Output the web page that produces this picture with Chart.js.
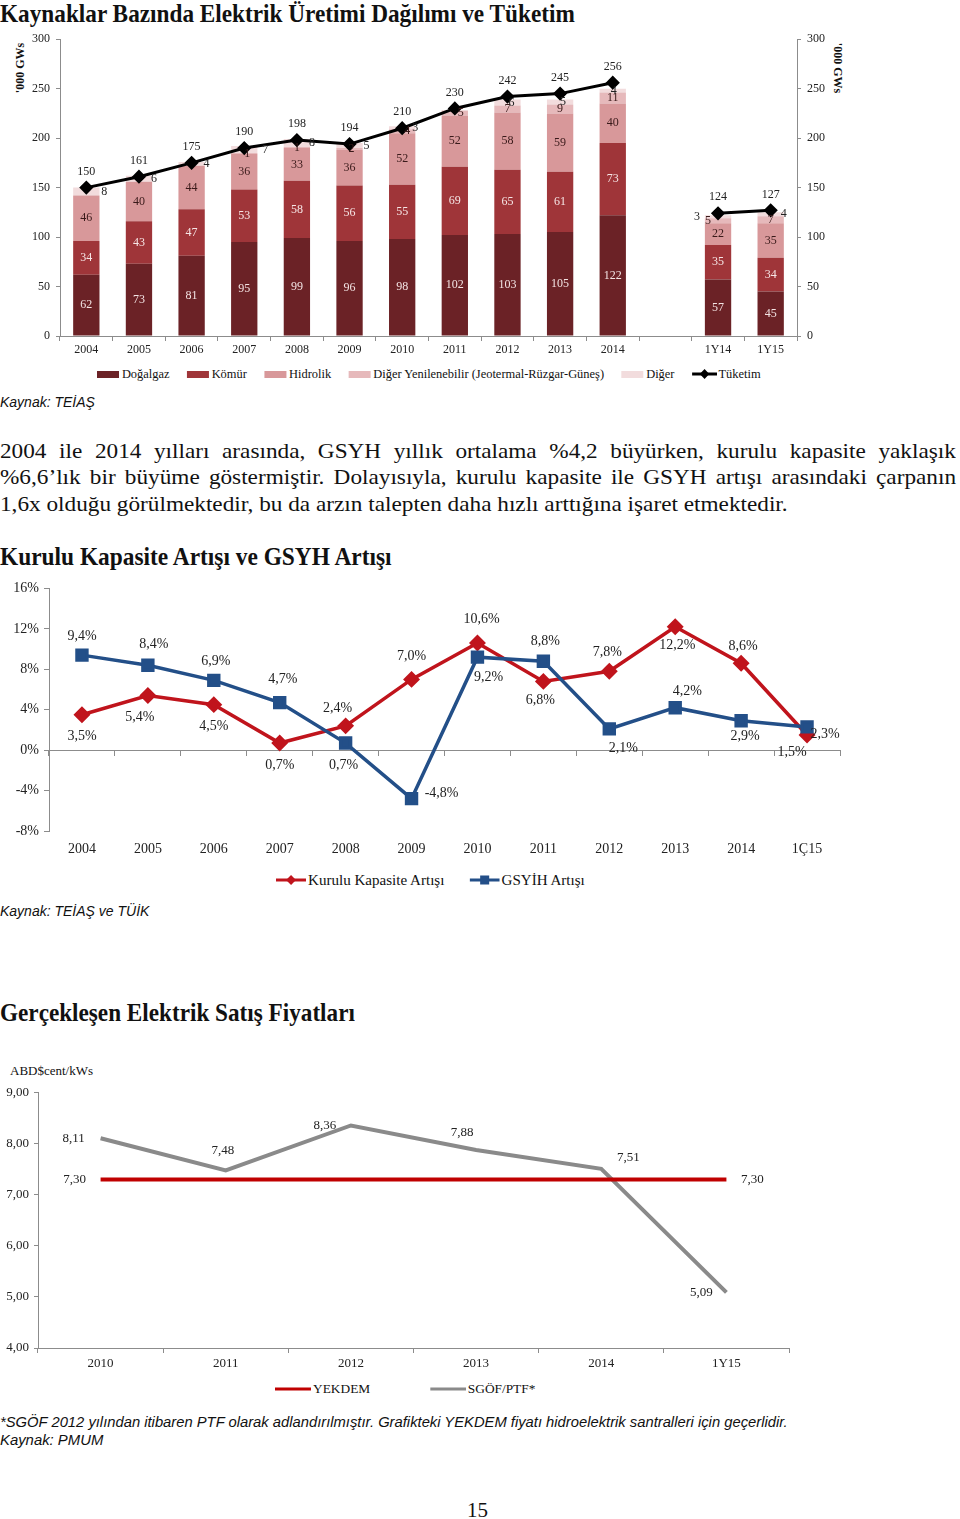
<!DOCTYPE html>
<html lang="tr">
<head>
<meta charset="utf-8">
<title>Elektrik Üretimi, Kapasite ve Fiyatlar</title>
<script src="https://cdn.jsdelivr.net/npm/chart.js@4.4.1/dist/chart.umd.min.js"></script>
<style>
  html, body { margin: 0; padding: 0; background: #fff; }
  body { width: 960px; height: 1519px; position: relative; overflow: hidden; font-family: 'Liberation Serif', serif; color: #111; }
  .abs { position: absolute; white-space: nowrap; transform-origin: 0 0; display: inline-block; }
  .h { font-weight: bold; font-size: 26px; line-height: 28px; }
  .src { font-family: 'Liberation Sans', sans-serif; font-style: italic; font-size: 14px; line-height: 18px; }
  .para { font-size: 22px; line-height: 26px; }
  .ytitle { position: absolute; font-weight: bold; font-size: 12px; white-space: nowrap; transform-origin: 50% 50%; }
  canvas { position: absolute; left: 0; }
  .legend { position: absolute; display: flex; align-items: center; white-space: nowrap; transform-origin: 0 50%; height: 16px; }
  .legend .it { display: flex; align-items: center; }
  .legend .box { display: inline-block; width: 23px; height: 7px; margin-right: 3px; }
</style>
</head>
<body>

<div class="abs h" id="t1" style="left:0;top:0">Kaynaklar Bazında Elektrik Üretimi Dağılımı ve Tüketim</div>
<div class="ytitle" style="left:20px;top:68px;transform:translate(-50%,-50%) rotate(-90deg)">'000 GWs</div>
<div class="ytitle" style="left:837px;top:68px;transform:translate(-50%,-50%) rotate(90deg)">'000 GWs</div>
<canvas id="uretim" width="960" height="334" style="top:26px"></canvas>
<div class="legend" id="leg1" style="left:97px;top:366px;font-size:13px"></div>
<div class="abs src" style="left:0;top:393px">Kaynak: TEİAŞ</div>

<div class="abs para" style="left:0;top:438px">2004 ile 2014 yılları arasında, GSYH yıllık ortalama %4,2 büyürken, kurulu kapasite yaklaşık</div>
<div class="abs para" style="left:0;top:464px">%6,6’lık bir büyüme göstermiştir. Dolayısıyla, kurulu kapasite ile GSYH artışı arasındaki çarpanın</div>
<div class="abs para" style="left:0;top:491px">1,6x olduğu görülmektedir, bu da arzın talepten daha hızlı arttığına işaret etmektedir.</div>

<div class="abs h" id="t2" style="left:0;top:543px">Kurulu Kapasite Artışı ve GSYH Artışı</div>
<canvas id="kapasite" width="960" height="290" style="top:575px"></canvas>
<div class="legend" id="leg2" style="left:276px;top:872px;font-size:15px"></div>
<div class="abs src" style="left:0;top:902px">Kaynak: TEİAŞ ve TÜİK</div>

<div class="abs h" id="t3" style="left:0;top:999px">Gerçekleşen Elektrik Satış Fiyatları</div>
<div class="abs" style="left:10px;top:1063px;font-size:13px">ABD$cent/kWs</div>
<canvas id="fiyat" width="960" height="300" style="top:1080px"></canvas>
<div class="legend" id="leg3" style="left:275px;top:1381px;font-size:13px"></div>
<div class="abs src" id="fn" style="left:0;top:1413px">*SGÖF 2012 yılından itibaren PTF olarak adlandırılmıştır. Grafikteki YEKDEM fiyatı hidroelektrik santralleri için geçerlidir.</div>
<div class="abs src" id="fn2" style="left:0;top:1431px">Kaynak: PMUM</div>
<div class="abs" style="left:467px;top:1498px;font-size:21px;line-height:24px">15</div>

<script>
// ---- grafik 1: kaynaklar bazında üretim ('000 GWs)
const donemler = ['2004', '2005', '2006', '2007', '2008', '2009', '2010', '2011', '2012', '2013', '2014', '', '1Y14', '1Y15'];
const dogalgaz = [62, 73, 81, 95, 99, 96, 98, 102, 103, 105, 122, null, 57, 45];
const komur = [34, 43, 47, 53, 58, 56, 55, 69, 65, 61, 73, null, 35, 34];
const hidrolik = [46, 40, 44, 36, 33, 36, 52, 52, 58, 59, 40, null, 22, 35];
const digerYenilenebilir = [0, 0, 0, 1, 1, 2, 4, 5, 7, 9, 11, null, 5, 7];
const diger = [8, 6, 4, 7, 8, 5, 3, 0, 6, 5, 4, null, 3, 4];
const tuketim = [150, 161, 175, 190, 198, 194, 210, 230, 242, 245, 256, null, 124, 127];

// ---- grafik 2: kurulu kapasite ve GSYİH artışı (%)
const yillar = ['2004', '2005', '2006', '2007', '2008', '2009', '2010', '2011', '2012', '2013', '2014', '1Ç15'];
const kuruluKapasite = [3.5, 5.4, 4.5, 0.7, 2.4, 7.0, 10.6, 6.8, 7.8, 12.2, 8.6, 1.5];
const gsyih = [9.4, 8.4, 6.9, 4.7, 0.7, -4.8, 9.2, 8.8, 2.1, 4.2, 2.9, 2.3];

// ---- grafik 3: satış fiyatları (ABD$cent/kWs)
const fiyatDonem = ['2010', '2011', '2012', '2013', '2014', '1Y15'];
const yekdem = [7.30, 7.30, 7.30, 7.30, 7.30, 7.30];
const sgofPtf = [8.11, 7.48, 8.36, 7.88, 7.51, 5.09];

// etiket kaydırmaları (sadece görünüm)
const digerDx = [18, 15, 15, 21, 15, 17, 13, 6, 4, 3, 1, 0, -21, 13];
const digerYenDx = [0, 0, 0, 3, 0, 2, 5, 6, 0, 0, 0, 0, -10, 0];
const kkOffsets = [[0, 22], [-8, 22], [0, 22], [0, 22], [-8, -18], [0, -23], [4, -24], [-3, 19], [-2, -19], [2, 19], [2, -17], [-15, 17]];
const gsOffsets = [[0, -19], [6, -21], [2, -19], [3, -23], [-2, 22], [30, -5], [11, 20], [2, -20], [14, 19], [12, -16], [4, 16], [18, 7]];
const sgofOffsets = [[-27, 0], [-3, -20], [-26, 0], [-14, -17], [27, -11], [-25, 0]];

const SERIF = "'Liberation Serif', serif";
const AXIS = '#8c8c8c';
const TXT = '#222';

// veri etiketleri için küçük eklenti
const valueLabels = {
    id: 'valueLabels',
    afterDatasetsDraw(chart) {
        const ctx = chart.ctx;
        chart.data.datasets.forEach((ds, di) => {
            const lc = ds.valueLabels;
            if (!lc) return;
            const meta = chart.getDatasetMeta(di);
            meta.data.forEach((el, i) => {
                const v = ds.data[i];
                if (v === null || v === undefined) return;
                if (lc.show && !lc.show(v, i)) return;
                const p = el.getProps(['x', 'y', 'base'], true);
                let x = p.x, y = p.y;
                if (lc.center) y = (p.y + p.base) / 2;
                const off = lc.offset ? lc.offset(i) : [0, 0];
                ctx.save();
                ctx.font = lc.font || ('12px ' + SERIF);
                ctx.fillStyle = lc.color || TXT;
                ctx.textAlign = 'center';
                ctx.textBaseline = 'middle';
                ctx.fillText(lc.fmt ? lc.fmt(v) : String(v), x + off[0], y + off[1]);
                ctx.restore();
            });
        });
    }
};

function fmtComma(v, d) {
    return v.toFixed(d).replace('.', ',');
}

function yAxis(opts) {
    return Object.assign({
        grid: { drawOnChartArea: false, tickLength: 4, color: AXIS },
        border: { color: AXIS },
        ticks: { font: { family: SERIF, size: 12 }, color: TXT, padding: 6, stepSize: 50 }
    }, opts);
}

// grafik 1
const barStyle = (label, data, color, labelColor, dx) => ({
    type: 'bar',
    label: label,
    data: data,
    backgroundColor: color,
    stack: 'uretim',
    order: 1,
    barPercentage: 0.5,
    categoryPercentage: 1,
    valueLabels: {
        center: true,
        color: labelColor,
        font: '12px ' + SERIF,
        show: v => v > 0,
        offset: dx ? (i => [dx[i], 0]) : null
    }
});

const chart1 = new Chart(document.getElementById('uretim'), {
    data: {
        labels: donemler,
        datasets: [
            barStyle('Doğalgaz', dogalgaz, '#6b2226', '#f3e4e4'),
            barStyle('Kömür', komur, '#9f3539', '#f6e6e6'),
            barStyle('Hidrolik', hidrolik, '#d8989a', '#3a1a1a'),
            barStyle('Diğer Yenilenebilir (Jeotermal-Rüzgar-Güneş)', digerYenilenebilir, '#e6b9bb', '#3a1a1a', digerYenDx),
            barStyle('Diğer', diger, '#f2dcdd', TXT, digerDx),
            {
                type: 'line',
                label: 'Tüketim',
                data: tuketim,
                yAxisID: 'y2',
                order: 0,
                borderColor: '#000',
                backgroundColor: '#000',
                borderWidth: 3,
                pointStyle: 'rectRot',
                pointRadius: 5,
                tension: 0,
                spanGaps: false,
                valueLabels: { offset: () => [0, -16] }
            }
        ]
    },
    options: {
        responsive: false,
        animation: false,
        layout: { padding: { top: 4 } },
        plugins: { legend: { display: false }, tooltip: { enabled: false } },
        scales: {
            x: {
                stacked: true,
                offset: true,
                grid: { offset: true, drawOnChartArea: false, tickLength: 5, color: AXIS },
                border: { color: AXIS },
                ticks: { font: { family: SERIF, size: 12 }, color: TXT, padding: 2, maxRotation: 0, autoSkip: false },
                afterFit: s => { s.height = 24; }
            },
            y: yAxis({ stacked: true, min: 0, max: 300, afterFit: s => { s.width = 60; } }),
            y2: yAxis({ position: 'right', min: 0, max: 300, afterFit: s => { s.width = 163; } })
        }
    },
    plugins: [valueLabels]
});

// grafik 2 (GSYİH çizgisi üstte çizilir)
const chart2 = new Chart(document.getElementById('kapasite'), {
    type: 'line',
    data: {
        labels: yillar,
        datasets: [
            {
                label: 'Kurulu Kapasite Artışı',
                data: kuruluKapasite,
                order: 1,
                borderColor: '#c0141c',
                backgroundColor: '#c0141c',
                borderWidth: 3.5,
                pointStyle: 'rectRot',
                pointRadius: 6,
                tension: 0,
                valueLabels: { fmt: v => fmtComma(v, 1) + '%', font: '14px ' + SERIF, offset: i => kkOffsets[i] }
            },
            {
                label: 'GSYİH Artışı',
                data: gsyih,
                order: 0,
                borderColor: '#234f88',
                backgroundColor: '#234f88',
                borderWidth: 3.5,
                pointStyle: 'rect',
                pointRadius: 7,
                tension: 0,
                valueLabels: { fmt: v => fmtComma(v, 1) + '%', font: '14px ' + SERIF, offset: i => gsOffsets[i] }
            }
        ]
    },
    options: {
        responsive: false,
        animation: false,
        layout: { padding: { top: 12, right: 120 } },
        plugins: { legend: { display: false }, tooltip: { enabled: false } },
        scales: {
            x: {
                position: { y: 0 },
                offset: true,
                grid: { offset: true, drawOnChartArea: false, tickLength: 5, color: AXIS },
                border: { color: AXIS },
                ticks: { display: false }
            },
            x2: {
                type: 'category',
                labels: yillar,
                position: 'bottom',
                offset: true,
                grid: { display: false, drawTicks: false },
                border: { display: false },
                ticks: { font: { family: SERIF, size: 14 }, color: TXT, padding: 10, maxRotation: 0, autoSkip: false },
                afterFit: s => { s.height = 34; }
            },
            y: {
                min: -8,
                max: 16,
                grid: { drawOnChartArea: false, tickLength: 5, color: AXIS },
                border: { color: AXIS },
                ticks: { stepSize: 4, font: { family: SERIF, size: 14 }, color: TXT, padding: 5, callback: v => v + '%' },
                afterFit: s => { s.width = 49; }
            }
        }
    },
    plugins: [valueLabels]
});

// grafik 3
const chart3 = new Chart(document.getElementById('fiyat'), {
    type: 'line',
    data: {
        labels: fiyatDonem,
        datasets: [
            {
                label: 'YEKDEM',
                data: yekdem,
                borderColor: '#c00000',
                backgroundColor: '#c00000',
                borderWidth: 4,
                pointRadius: 0,
                tension: 0,
                valueLabels: {
                    fmt: v => fmtComma(v, 2),
                    font: '13px ' + SERIF,
                    show: (v, i) => i === 0 || i === yekdem.length - 1,
                    offset: i => (i === 0 ? [-26, 0] : [26, 0])
                }
            },
            {
                label: 'SGÖF/PTF*',
                data: sgofPtf,
                borderColor: '#8a8a8a',
                backgroundColor: '#8a8a8a',
                borderWidth: 4,
                pointRadius: 0,
                tension: 0,
                valueLabels: { fmt: v => fmtComma(v, 2), font: '13px ' + SERIF, offset: i => sgofOffsets[i] }
            }
        ]
    },
    options: {
        responsive: false,
        animation: false,
        layout: { padding: { top: 12, right: 171 } },
        plugins: { legend: { display: false }, tooltip: { enabled: false } },
        scales: {
            x: {
                offset: true,
                grid: { offset: true, drawOnChartArea: false, tickLength: 5, color: AXIS },
                border: { color: AXIS },
                ticks: { font: { family: SERIF, size: 13 }, color: TXT, padding: 3, maxRotation: 0, autoSkip: false },
                afterFit: s => { s.height = 32; }
            },
            y: {
                min: 4,
                max: 9,
                grid: { drawOnChartArea: false, tickLength: 4, color: AXIS },
                border: { color: AXIS },
                ticks: { stepSize: 1, font: { family: SERIF, size: 13 }, color: TXT, padding: 5, callback: v => fmtComma(v, 2) },
                afterFit: s => { s.width = 38; }
            }
        }
    },
    plugins: [valueLabels]
});

// html lejantlar, grafiklerin veri setlerinden
function marker(ds, w) {
    const c = ds.borderColor;
    let m = '';
    if (ds.pointStyle === 'rectRot' && ds.pointRadius) {
        m = `<rect x="${w / 2 - 3.5}" y="1.5" width="7" height="7" fill="${c}" transform="rotate(45 ${w / 2} 5)"/>`;
    } else if (ds.pointStyle === 'rect' && ds.pointRadius) {
        m = `<rect x="${w / 2 - 4.5}" y="0.5" width="9" height="9" fill="${c}"/>`;
    }
    return `<svg width="${w}" height="10" style="margin-right:2px"><line x1="0" y1="5" x2="${w}" y2="5" stroke="${c}" stroke-width="3"/>${m}</svg>`;
}

function buildLegend(chart, id, gap, lineW, target) {
    const el = document.getElementById(id);
    el.style.gap = gap + 'px';
    chart.data.datasets.forEach(ds => {
        const it = document.createElement('div');
        it.className = 'it';
        const sym = (ds.type || chart.config.type) === 'bar'
            ? `<span class="box" style="background:${ds.backgroundColor}"></span>`
            : marker(ds, lineW);
        it.innerHTML = sym + '<span>' + ds.label + '</span>';
        el.append(it);
    });
    el.style.transform = 'scaleX(' + (target / el.offsetWidth) + ')';
}

buildLegend(chart1, 'leg1', 18, 26, 664);
buildLegend(chart2, 'leg2', 25, 30, 309);
buildLegend(chart3, 'leg3', 58, 35, 260);

// dar yazı tipini taklit etmek için yatay sıkıştırma
function fitWidth(el, w) {
    el.style.transform = 'scaleX(' + (w / el.offsetWidth) + ')';
}
fitWidth(document.getElementById('t1'), 575);
fitWidth(document.getElementById('t2'), 392);
fitWidth(document.getElementById('t3'), 355);
fitWidth(document.getElementById('fn'), 788);
fitWidth(document.getElementById('fn2'), 103);

const lines = document.querySelectorAll('.para');
const k = 788 / lines[2].offsetWidth;
[0, 1].forEach(i => {
    const el = lines[i];
    const n = (el.textContent.match(/ /g) || []).length;
    const extra = 956 / k - el.offsetWidth;
    el.style.wordSpacing = (extra / n) + 'px';
});
lines.forEach(el => { el.style.transform = 'scaleX(' + k + ')'; });
</script>
</body>
</html>
